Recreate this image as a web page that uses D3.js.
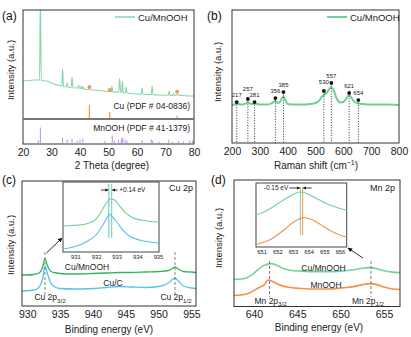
<!DOCTYPE html>
<html>
<head>
<meta charset="utf-8">
<script src="https://cdn.jsdelivr.net/npm/d3@7"></script>
<style>
  body { margin: 0; background: #fff; }
  svg { font-family: "Liberation Sans", Arial, sans-serif; }
</style>
</head>
<body>
<div id="vis"></div>
<script>

// (a) XRD, intensity in arbitrary units (0-100 over the upper part)
var xrdTicks = [20, 30, 40, 50, 60, 70, 80];
var xrdCuMnOOH = [
  [20,34.9],[22,35.3],[24,35.8],[25.8,35.8],[26.1,115],[26.4,35.3],[28,34.9],[29,34.4],[30,33],
  [32,31.2],[33.6,30.3],[33.9,45.9],[34.2,29.8],[35.2,29.4],[35.5,33],[35.8,29.2],[36.9,28.9],
  [37.2,38.5],[37.5,28.7],[39.2,28.4],[39.5,31.2],[39.8,28.2],[40.3,28.1],[40.5,30.3],[40.8,27.9],
  [41.0,27.8],[41.2,29.4],[41.5,27.6],[43.0,27.0],[43.3,29.0],[43.6,26.8],[45,26.6],[48,25.7],
  [50.2,25.2],[50.4,26.6],[50.6,25.1],[51.0,25.0],[51.2,30.3],[51.5,24.9],[53.6,24.5],[53.9,37.2],
  [54.3,24.4],[54.7,24.3],[54.9,34.9],[55.2,24.2],[55.9,24.0],[56.2,29.4],[56.5,23.9],[60,22.9],
  [61.5,22.8],[61.8,28.4],[62.1,22.7],[65.0,22.5],[65.3,30.3],[65.6,22.4],[68,22.0],[71.0,21.8],
  [71.3,25.7],[71.6,21.7],[72.6,21.7],[72.9,23.5],[73.2,21.6],[74.1,22.2],[76,21.6],[80,21.1]
];
var cuRefPos = [43.3, 50.4, 74.1];
var cuRefInt = [100, 46, 20];
var cuMarkY = [29.4, 26.6, 25.0];
var mnRefPos = [25.4, 26.1, 33.9, 35.5, 37.2, 39.0, 40.0, 41.0, 48.7, 51.3, 52.0, 53.5, 54.5,
  55.0, 55.8, 56.5, 61.8, 65.0, 65.5, 67.7, 71.2, 72.5, 74.5, 76.3, 78.5, 79.5];
var mnRefInt = [20, 100, 35, 25, 30, 18, 25, 30, 15, 50, 18, 25, 30,
  38, 25, 18, 22, 25, 18, 12, 25, 12, 18, 12, 18, 18];

// (b) Raman
var ramanTicks = [200, 300, 400, 500, 600, 700, 800];
var ramanCuMnOOH = [
  [200,28.6],[210,28.9],[217,29.7],[230,28.9],[245,29.3],[257,30.5],[270,29.3],[281,29.7],
  [300,28.9],[330,28.9],[345,30.1],[356,31.6],[365,30.1],[372,30.8],[378,33.1],[385,35.0],
  [392,32.3],[400,29.3],[420,28.9],[450,28.9],[480,29.3],[500,30.1],[515,32.3],[525,35.3],
  [530,36.1],[540,37.6],[550,40.6],[557,42.1],[565,39.8],[575,33.8],[590,30.5],[600,30.8],
  [610,33.1],[617,35.3],[621,35.7],[630,33.8],[640,30.8],[654,29.7],[670,29.3],[700,28.9],
  [750,28.9],[800,28.6]
];
var ramanPeaks = [217, 257, 281, 356, 385, 530, 557, 621, 654];
var ramanDotY = [30.8, 33.1, 30.8, 33.8, 38.3, 39.1, 45.1, 37.6, 32.3];

// (c) Cu 2p XPS
var cuTicks = [930, 935, 940, 945, 950, 955];
var cu2pCuMnOOH = [
  [929.2,24.8],[930,24.8],[931,25.2],[931.8,26.4],[932.3,30.4],[932.7,37.6],[933.1,32],
  [933.6,27.6],[934.5,26.4],[936,25.6],[938,25.6],[940,26],[942,26.4],[944,26.8],[946,26.8],
  [948,27.2],[950,27.6],[951.5,28.4],[952.2,30.4],[952.5,31.2],[953,29.6],[953.8,27.6],
  [955,27.2],[955.7,26.8]
];
var cu2pCuC = [
  [929.2,12],[930.5,12.4],[931.5,13.6],[932.0,16.8],[932.4,23.2],[932.7,32],[933.0,27.2],
  [933.5,19.2],[934.2,15.2],[935,14],[937,13.6],[940,14],[942,14.8],[944,15.6],[946,15.2],
  [948,14.8],[950,15.6],[951.5,18.4],[952.2,21.6],[952.5,22.4],[953,20],[953.8,16],
  [955,14.4],[955.7,14]
];
var cuInsetTicks = [931, 932, 933, 934, 935];
var cuInsetCuMnOOH = [
  [930.4,37.1],[930.8,37.9],[931.2,38.6],[931.6,40.7],[932.0,47.1],[932.3,60],[932.5,70],
  [932.7,75.7],[932.9,74.3],[933.1,67.1],[933.4,57.1],[933.8,48.6],[934.2,45.7],[934.6,43.6],
  [935.05,42.9]
];
var cuInsetCuC = [
  [930.4,4.3],[930.8,6.4],[931.2,10],[931.6,15.7],[932.0,24.3],[932.3,37.1],[932.5,47.1],
  [932.65,54.3],[932.8,50],[933.0,42.9],[933.3,31.4],[933.7,21.4],[934.1,17.1],[934.6,14.3],
  [935.05,12.9]
];
var cuPeakPos = [932.7, 952.5];
var cuShiftPos = [932.62, 932.76];

// (d) Mn 2p XPS
var mnTicks = [640, 645, 650, 655];
var mn2pCuMnOOH = [
  [637.7,21.3],[638.5,21.7],[639.2,22.8],[639.8,25.2],[640.4,28.7],[641.0,31.9],[641.6,33.5],
  [642.0,33.9],[642.6,32.7],[643.3,30.3],[644.2,28.7],[645.5,28],[647,27.6],[648.5,27.6],
  [650,28],[651.5,29.1],[652.5,30.3],[653.4,30.7],[654.2,29.9],[655.0,28.3],[656,27.2],
  [656.85,26.8]
];
var mn2pMnOOH = [
  [637.7,8.7],[638.5,9.1],[639.3,10.2],[640.0,12.6],[640.6,15],[641.2,17.3],[641.6,20.9],
  [641.9,20.5],[642.4,18.9],[643.2,16.5],[644.2,15],[645.5,14.2],[647,13.8],[648.5,13.8],
  [650,14.6],[651.5,15.7],[652.5,17.3],[653.4,18.1],[654.2,17.3],[655.0,15.4],[656,13.8],
  [656.85,13.4]
];
var mnInsetTicks = [651, 652, 653, 654, 655, 656];
var mnInsetCuMnOOH = [
  [650.64,50],[651.0,53.1],[651.5,59.4],[652.0,67.2],[652.5,75],[653.0,82],[653.4,85.9],
  [653.8,84.4],[654.2,79.7],[654.7,73.4],[655.2,67.2],[655.7,62.5],[656.1,59.4],[656.43,57.8]
];
var mnInsetMnOOH = [
  [650.64,3.9],[651.0,6.3],[651.5,10.9],[652.0,18.8],[652.5,28.1],[653.0,38.3],[653.4,43.8],
  [653.7,46.1],[654.0,44.5],[654.5,39.1],[655.0,31.3],[655.5,24.2],[656.0,18.8],[656.43,15.6]
];
var mnPeakPos = [641.8, 653.5];
var mnShiftPos = [653.47, 653.62];

var GREEN_A = '#86d6a8', ORANGE = '#f5964c', PURPLE = '#b692dc';
var GREEN_B = '#6fcf97', GREEN_C = '#33b35a', CYAN = '#55c3e6';
var GREEN_D = '#72d29b', ORANGE_D = '#f5914a';

// extra lift (px) for crowded raman labels
var labelLift = {257: 2.5, 530: 2};

var svg = d3.select('#vis').append('svg').attr('width', 411).attr('height', 337);

var defs = svg.append('defs');
defs.append('marker').attr('id', 'head').attr('viewBox', '0 0 10 10')
  .attr('refX', 9).attr('refY', 5).attr('markerWidth', 5).attr('markerHeight', 5)
  .attr('orient', 'auto-start-reverse')
  .append('path').attr('d', 'M0,0L10,5L0,10z').attr('fill', '#111');
defs.append('marker').attr('id', 'small').attr('viewBox', '0 0 10 10')
  .attr('refX', 9).attr('refY', 5).attr('markerWidth', 4).attr('markerHeight', 4)
  .attr('orient', 'auto-start-reverse')
  .append('path').attr('d', 'M0,0L10,5L0,10z').attr('fill', '#111');

var clipId = 0;
function panel(o){
  var g = svg.append('g');
  var x = d3.scaleLinear().domain(o.xDomain).range([o.left, o.right]);
  var y = d3.scaleLinear().domain([0, 100]).range([o.bottom, o.top]);
  var id = 'clip' + (clipId++);
  defs.append('clipPath').attr('id', id).append('rect')
    .attr('x', o.left).attr('y', o.top).attr('width', o.right - o.left).attr('height', o.bottom - o.top);
  var plot = g.append('g').attr('clip-path', 'url(#' + id + ')');

  var ax = g.append('g').attr('transform', 'translate(0,' + o.bottom + ')')
    .call(d3.axisBottom(x).tickValues(o.ticks).tickSize(0).tickPadding(o.pad).tickFormat(d3.format('d')));
  ax.select('.domain').remove();
  ax.selectAll('text').style('font-size', '10.5px').attr('fill', '#222');

  g.append('rect').attr('x', o.left).attr('y', o.top)
    .attr('width', o.right - o.left).attr('height', o.bottom - o.top)
    .attr('fill', 'none').attr('stroke', '#333').attr('stroke-width', 1);

  g.append('text').attr('x', o.titleX).attr('y', o.titleY).attr('text-anchor', 'middle')
    .style('font-size', '10px').attr('fill', '#222').text(o.title);
  g.append('text').attr('transform', 'translate(' + o.ylabX + ',' + o.ylabY + ') rotate(-90)')
    .attr('text-anchor', 'middle').style('font-size', '9.5px').attr('fill', '#222')
    .text('Intensity (a.u.)');
  g.append('text').attr('x', o.letterX).attr('y', o.letterY).style('font-size', '12px')
    .attr('fill', '#111').text(o.letter);
  return {g: g, plot: plot, x: x, y: y, axis: ax};
}

function curve(sel, data, x, y, color, width){
  sel.append('path').datum(data)
    .attr('d', d3.line().x(function(d){ return x(d[0]); }).y(function(d){ return y(d[1]); })
      .curve(d3.curveMonotoneX))
    .attr('fill', 'none').attr('stroke', color).attr('stroke-width', width)
    .attr('stroke-linejoin', 'round');
}

function subText(g, cx, by, main, sub, size){
  var t = g.append('text').attr('x', cx).attr('y', by).attr('text-anchor', 'middle')
    .style('font-size', size + 'px').attr('fill', '#222');
  t.append('tspan').text(main);
  t.append('tspan').attr('dy', size * 0.3).style('font-size', (size * 0.72) + 'px').text(sub);
}

function inset(g, o){
  var x = d3.scaleLinear().domain(o.xDomain).range([o.left, o.right]);
  var y = d3.scaleLinear().domain([0, 100]).range([o.bottom, o.top]);
  g.append('rect').attr('x', o.left).attr('y', o.top)
    .attr('width', o.right - o.left).attr('height', o.bottom - o.top)
    .attr('fill', '#fff').attr('stroke', '#444').attr('stroke-width', 1);
  var ax = g.append('g').attr('transform', 'translate(0,' + o.bottom + ')')
    .call(d3.axisBottom(x).tickValues(o.ticks).tickSize(0).tickPadding(3).tickFormat(d3.format('d')));
  ax.select('.domain').remove();
  ax.selectAll('text').style('font-size', '5.8px').attr('fill', '#222');
  return {x: x, y: y};
}

// ---------- (a) ----------
var A = panel({xDomain: [20, 80], left: 23, right: 194, top: 10, bottom: 144,
  ticks: xrdTicks, pad: 5, title: '2 Theta (degree)', titleX: 112, titleY: 168.5,
  ylabX: 14, ylabY: 70, letter: '(a)', letterX: 2, letterY: 20});
var yA = d3.scaleLinear().domain([0, 100]).range([119, 10]);
curve(A.plot, xrdCuMnOOH, A.x, yA, GREEN_A, 1.1);
A.g.selectAll('.cuMark').data(cuRefPos).enter().append('circle')
  .attr('cx', function(d){ return A.x(d); })
  .attr('cy', function(d, i){ return yA(cuMarkY[i]); })
  .attr('r', 1.9).attr('fill', ORANGE);
A.g.append('line').attr('x1', 23).attr('x2', 194).attr('y1', 119).attr('y2', 119)
  .attr('stroke', '#777').attr('stroke-width', 2);
A.g.selectAll('.cuBar').data(cuRefPos).enter().append('line')
  .attr('x1', function(d){ return A.x(d); }).attr('x2', function(d){ return A.x(d); })
  .attr('y1', 118).attr('y2', function(d, i){ return 118 - cuRefInt[i] / 100 * 13; })
  .attr('stroke', ORANGE).attr('stroke-width', 1.2);
A.g.selectAll('.mnBar').data(mnRefPos).enter().append('line')
  .attr('x1', function(d){ return A.x(d); }).attr('x2', function(d){ return A.x(d); })
  .attr('y1', 143.5).attr('y2', function(d, i){ return 143.5 - mnRefInt[i] / 100 * 16; })
  .attr('stroke', PURPLE).attr('stroke-width', 1);
A.g.append('text').attr('x', 190).attr('y', 108.5).attr('text-anchor', 'end')
  .style('font-size', '8.5px').attr('fill', '#222').text('Cu (PDF # 04-0836)');
A.g.append('text').attr('x', 190).attr('y', 131).attr('text-anchor', 'end')
  .style('font-size', '8.5px').attr('fill', '#222').text('MnOOH (PDF # 41-1379)');
A.g.append('line').attr('x1', 115).attr('x2', 135).attr('y1', 17).attr('y2', 17)
  .attr('stroke', GREEN_A).attr('stroke-width', 1.5);
A.g.append('text').attr('x', 138).attr('y', 20.5).style('font-size', '9.5px').attr('fill', '#222').text('Cu/MnOOH');

// ---------- (b) ----------
var B = panel({xDomain: [200, 800], left: 232, right: 399, top: 10, bottom: 143,
  ticks: ramanTicks, pad: 5, title: '', titleX: 316, titleY: 168.5,
  ylabX: 221, ylabY: 72, letter: '(b)', letterX: 207, letterY: 20});
var bt = B.g.append('text').attr('x', 316).attr('y', 168.5).attr('text-anchor', 'middle')
  .style('font-size', '10px').attr('fill', '#222');
bt.append('tspan').text('Raman shift (cm');
bt.append('tspan').attr('dy', -4).style('font-size', '7px').text('\u22121');
bt.append('tspan').attr('dy', 4).text(')');
B.g.selectAll('.drop').data(ramanPeaks).enter().append('line')
  .attr('x1', function(d){ return B.x(d); }).attr('x2', function(d){ return B.x(d); })
  .attr('y1', function(d, i){ return B.y(ramanDotY[i]); }).attr('y2', 143)
  .attr('stroke', '#222').attr('stroke-width', 0.9).attr('stroke-dasharray', '1,1.6');
curve(B.plot, ramanCuMnOOH, B.x, B.y, GREEN_B, 2);
B.g.selectAll('.dot').data(ramanPeaks).enter().append('circle')
  .attr('cx', function(d){ return B.x(d); }).attr('cy', function(d, i){ return B.y(ramanDotY[i]); })
  .attr('r', 1.9).attr('fill', '#111');
B.g.selectAll('.plab').data(ramanPeaks).enter().append('text')
  .attr('x', function(d){ return B.x(d); })
  .attr('y', function(d, i){ return B.y(ramanDotY[i]) - 5 - (labelLift[d] || 0); })
  .attr('text-anchor', 'middle').style('font-size', '6px').attr('fill', '#222')
  .text(function(d){ return d; });
B.g.append('line').attr('x1', 327).attr('x2', 347).attr('y1', 17).attr('y2', 17)
  .attr('stroke', GREEN_B).attr('stroke-width', 2);
B.g.append('text').attr('x', 350).attr('y', 20.5).style('font-size', '9.5px').attr('fill', '#222').text('Cu/MnOOH');

// ---------- (c) ----------
var C = panel({xDomain: [929.2, 955.7], left: 22, right: 196, top: 181, bottom: 306,
  ticks: cuTicks, pad: 4.5, title: 'Binding energy (eV)', titleX: 109, titleY: 332.5,
  ylabX: 14, ylabY: 245, letter: '(c)', letterX: 2, letterY: 184});
C.g.selectAll('.dash').data(cuPeakPos).enter().append('line')
  .attr('x1', function(d){ return C.x(d); }).attr('x2', function(d){ return C.x(d); })
  .attr('y1', 252).attr('y2', 297)
  .attr('stroke', '#777').attr('stroke-width', 0.9).attr('stroke-dasharray', '3,2');
curve(C.plot, cu2pCuMnOOH, C.x, C.y, GREEN_C, 1.3);
curve(C.plot, cu2pCuC, C.x, C.y, CYAN, 1.3);
C.g.append('text').attr('x', 87).attr('y', 269.5).attr('text-anchor', 'middle')
  .style('font-size', '8.5px').attr('fill', '#222').text('Cu/MnOOH');
C.g.append('text').attr('x', 113).attr('y', 285.5).attr('text-anchor', 'middle')
  .style('font-size', '8.5px').attr('fill', '#222').text('Cu/C');
subText(C.g, C.x(cuPeakPos[0]) + 5, 300, 'Cu 2p', '3/2', 8.5);
subText(C.g, C.x(cuPeakPos[1]) + 1, 300, 'Cu 2p', '1/2', 8.5);
C.g.append('text').attr('x', 193).attr('y', 191).attr('text-anchor', 'end')
  .style('font-size', '9px').attr('fill', '#222').text('Cu 2p');
var CI = inset(C.g, {xDomain: [930.4, 935.05], left: 63, right: 159, top: 182, bottom: 252, ticks: cuInsetTicks});
C.g.append('line').attr('x1', CI.x(cuShiftPos[0])).attr('x2', CI.x(cuShiftPos[0]))
  .attr('y1', 184).attr('y2', 238).attr('stroke', CYAN).attr('stroke-width', 1);
C.g.append('line').attr('x1', CI.x(cuShiftPos[1])).attr('x2', CI.x(cuShiftPos[1]))
  .attr('y1', 184).attr('y2', 238).attr('stroke', GREEN_B).attr('stroke-width', 1);
curve(C.g, cuInsetCuMnOOH, CI.x, CI.y, GREEN_B, 1.1);
curve(C.g, cuInsetCuC, CI.x, CI.y, CYAN, 1.1);
C.g.append('line').attr('x1', CI.x(cuShiftPos[0]) - 8).attr('x2', CI.x(cuShiftPos[0]) - 0.6)
  .attr('y1', 190).attr('y2', 190).attr('stroke', '#111').attr('stroke-width', 0.8).attr('marker-end', 'url(#small)');
C.g.append('line').attr('x1', CI.x(cuShiftPos[1]) + 6).attr('x2', CI.x(cuShiftPos[1]) + 0.6)
  .attr('y1', 190).attr('y2', 190).attr('stroke', '#111').attr('stroke-width', 0.8).attr('marker-end', 'url(#small)');
C.g.append('text').attr('x', CI.x(cuShiftPos[1]) + 7.5).attr('y', 192.3)
  .style('font-size', '6.5px').attr('fill', '#222').text('+0.14 eV');
C.g.append('line').attr('x1', C.x(cuPeakPos[0]) + 1.5).attr('y1', 253)
  .attr('x2', 62).attr('y2', 238).attr('stroke', '#111').attr('stroke-width', 0.9)
  .attr('marker-end', 'url(#head)');

// ---------- (d) ----------
var D = panel({xDomain: [637.7, 656.85], left: 234, right: 400, top: 180, bottom: 306.5,
  ticks: mnTicks, pad: 4.5, title: 'Binding energy (eV)', titleX: 319, titleY: 330.5,
  ylabX: 222, ylabY: 238, letter: '(d)', letterX: 211, letterY: 184});
D.g.selectAll('.dash').data(mnPeakPos).enter().append('line')
  .attr('x1', function(d){ return D.x(d); }).attr('x2', function(d){ return D.x(d); })
  .attr('y1', 261).attr('y2', 297)
  .attr('stroke', '#666').attr('stroke-width', 0.9).attr('stroke-dasharray', '3,2');
curve(D.plot, mn2pCuMnOOH, D.x, D.y, GREEN_D, 1.6);
curve(D.plot, mn2pMnOOH, D.x, D.y, ORANGE_D, 1.6);
D.g.append('text').attr('x', 323.5).attr('y', 270.5).attr('text-anchor', 'middle')
  .style('font-size', '8.5px').attr('fill', '#222').text('Cu/MnOOH');
D.g.append('text').attr('x', 326).attr('y', 288).attr('text-anchor', 'middle')
  .style('font-size', '8.5px').attr('fill', '#222').text('MnOOH');
subText(D.g, D.x(mnPeakPos[0]) + 1, 303.5, 'Mn 2p', '3/2', 8.5);
subText(D.g, D.x(mnPeakPos[1]) - 3, 303.5, 'Mn 2p', '1/2', 8.5);
D.g.append('text').attr('x', 395).attr('y', 191).attr('text-anchor', 'end')
  .style('font-size', '9px').attr('fill', '#222').text('Mn 2p');
var DI = inset(D.g, {xDomain: [650.64, 656.43], left: 256, right: 346.7, top: 183, bottom: 247, ticks: mnInsetTicks});
D.g.append('line').attr('x1', DI.x(mnShiftPos[0])).attr('x2', DI.x(mnShiftPos[0]))
  .attr('y1', 187).attr('y2', 235).attr('stroke', GREEN_D).attr('stroke-width', 1);
D.g.append('line').attr('x1', DI.x(mnShiftPos[1])).attr('x2', DI.x(mnShiftPos[1]))
  .attr('y1', 187).attr('y2', 235).attr('stroke', ORANGE_D).attr('stroke-width', 1);
curve(D.g, mnInsetCuMnOOH, DI.x, DI.y, GREEN_D, 1.1);
curve(D.g, mnInsetMnOOH, DI.x, DI.y, ORANGE_D, 1.1);
D.g.append('line').attr('x1', DI.x(mnShiftPos[0]) - 11).attr('x2', DI.x(mnShiftPos[0]) - 0.6)
  .attr('y1', 188).attr('y2', 188).attr('stroke', '#111').attr('stroke-width', 0.8).attr('marker-end', 'url(#small)');
D.g.append('line').attr('x1', DI.x(mnShiftPos[1]) + 9).attr('x2', DI.x(mnShiftPos[1]) + 0.6)
  .attr('y1', 188).attr('y2', 188).attr('stroke', '#111').attr('stroke-width', 0.8).attr('marker-end', 'url(#small)');
D.g.append('text').attr('x', DI.x(mnShiftPos[0]) - 12).attr('y', 190.3).attr('text-anchor', 'end')
  .style('font-size', '6.5px').attr('fill', '#222').text('-0.15 eV');
D.g.append('line').attr('x1', D.x(mnPeakPos[1]) - 8).attr('y1', 258)
  .attr('x2', 348).attr('y2', 248).attr('stroke', '#111').attr('stroke-width', 0.9)
  .attr('marker-end', 'url(#head)');

</script>
</body>
</html>
